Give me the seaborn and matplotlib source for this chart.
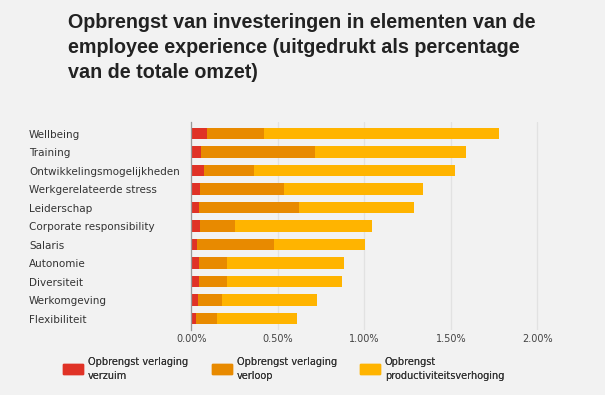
import numpy as np
import pandas as pd
import seaborn as sns
import matplotlib.pyplot as plt
from matplotlib.patches import Patch
from matplotlib.ticker import PercentFormatter

categories = ["Wellbeing", "Training", "Ontwikkelingsmogelijkheden",
              "Werkgerelateerde stress", "Leiderschap", "Corporate responsibility",
              "Salaris", "Autonomie", "Diversiteit", "Werkomgeving", "Flexibiliteit"]
# values in % of total revenue
verzuim = [0.087, 0.054, 0.073, 0.050, 0.042, 0.050, 0.031, 0.042, 0.042, 0.035, 0.029]
verloop = [0.333, 0.658, 0.287, 0.484, 0.579, 0.199, 0.449, 0.164, 0.164, 0.139, 0.116]
productiviteit = [1.360, 0.874, 1.164, 0.803, 0.667, 0.796, 0.521, 0.674, 0.664, 0.551, 0.468]
series_names = ["Opbrengst verlaging\nverzuim", "Opbrengst verlaging\nverloop",
                "Opbrengst\nproductiviteitsverhoging"]
colors = ["#e03226", "#e88a00", "#ffb400"]

df = pd.DataFrame({"cat": categories, "verzuim": verzuim,
                   "verloop": verloop, "prod": productiviteit})
df["c1"] = df["verzuim"]
df["c2"] = df["c1"] + df["verloop"]
df["c3"] = df["c2"] + df["prod"]

sns.set_theme(style="white")
plt.rcParams["font.family"] = ["Liberation Sans", "DejaVu Sans"]
bg = "#f2f2f2"
small = ["DejaVu Sans"]

fig = plt.figure(figsize=(6.05, 3.95), dpi=100, facecolor=bg)
ax = fig.add_axes([0.3165, 0.165, 0.600, 0.525], facecolor=bg)

# stacked bars: draw cumulative totals back to front
for col, c in zip(["c3", "c2", "c1"], colors[::-1]):
    sns.barplot(data=df, x=col, y="cat", color=c, orient="h", width=0.62,
                saturation=1, edgecolor=c, linewidth=0, ax=ax)

ax.set_xlim(0, 2.1)
ax.set_ylim(10.6, -0.6)
ax.set_xticks([0, 0.5, 1.0, 1.5, 2.0])
ax.xaxis.set_major_formatter(PercentFormatter(decimals=2))
ax.grid(axis="x", color="#e2e2e2", linewidth=0.9)
ax.set_axisbelow(True)
for s in ["top", "right", "bottom"]:
    ax.spines[s].set_visible(False)
ax.spines["left"].set_color("#999999")
ax.spines["left"].set_linewidth(0.9)
ax.set_xlabel("")
ax.set_ylabel("")
ax.tick_params(axis="x", length=0, labelsize=7, labelcolor="#444444", pad=3)
ax.tick_params(axis="y", length=0, labelsize=7.5, labelcolor="#333333", pad=117)
for lab in ax.get_yticklabels():
    lab.set_horizontalalignment("left")
    lab.set_family(small)
for lab in ax.get_xticklabels():
    lab.set_family(small)

fig.text(0.112, 0.967, "Opbrengst van investeringen in elementen van de\n"
         "employee experience (uitgedrukt als percentage\nvan de totale omzet)",
         fontsize=14.2, fontweight="bold", color="#222222", va="top", ha="left",
         linespacing=1.4)

# legend: one entry per box so the positions match the reference
for i, (name, c) in enumerate(zip(series_names, colors)):
    leg = fig.legend([Patch(facecolor=c, edgecolor=c)], [name], loc="upper left",
                     bbox_to_anchor=([0.104, 0.350, 0.595][i], 0.097),
                     frameon=False, handlelength=2.06, handleheight=1.23,
                     handletextpad=0.5, borderpad=0, borderaxespad=0,
                     prop={"family": small, "size": 7}, labelcolor="#333333")
    for t in leg.get_texts():
        t.set_linespacing(1.5)
    fig.add_artist(leg)

fig.savefig("out.png", dpi=100, facecolor=bg)
